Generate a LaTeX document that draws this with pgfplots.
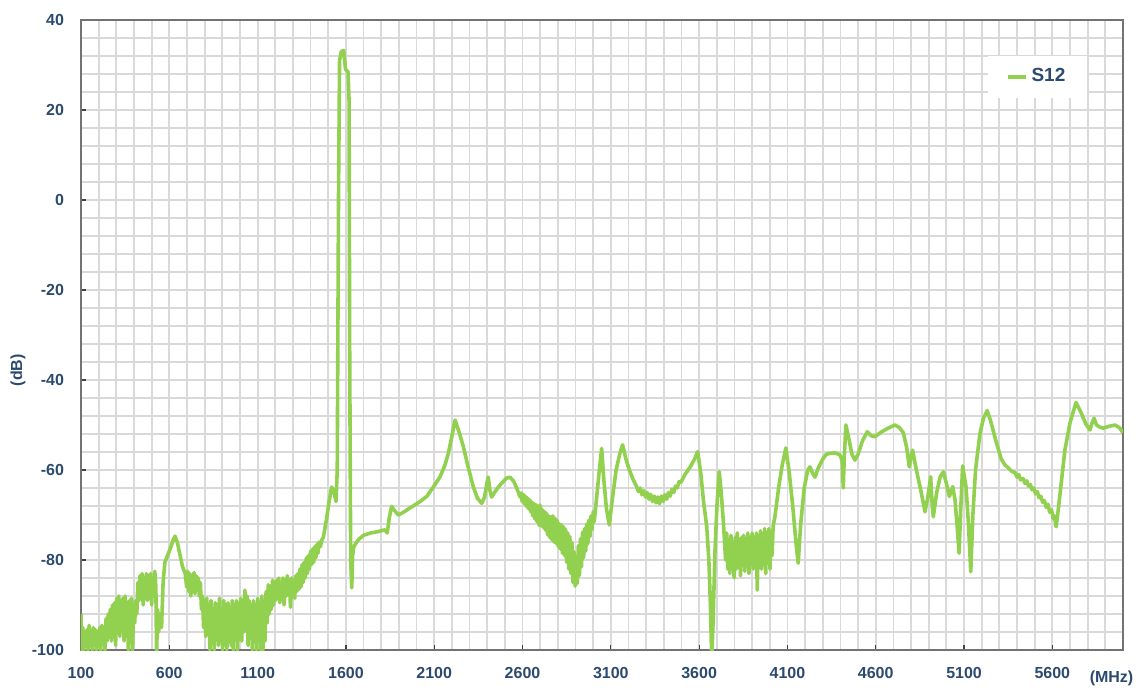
\documentclass[border=0pt]{standalone}
\usepackage{fontspec}
\setmainfont{Liberation Sans}
\usepackage{pgfplots}
\pgfplotsset{compat=1.18}
\usetikzlibrary{calc}
\definecolor{sgreen}{RGB}{146,208,80}
\definecolor{lblue}{RGB}{44,74,110}
\definecolor{gridc}{RGB}{217,217,217}
\begin{document}
\begin{tikzpicture}
\begin{axis}[
  scale only axis,
  width=521pt, height=315pt,
  xmin=100, xmax=6000, ymin=-100, ymax=40,
  xtick={100,600,...,5600},
  ytick={-100,-80,...,40},
  minor xtick={200,300,...,5900},
  minor ytick={-96,-92,...,36},
  grid=both,
  major grid style={gridc, line width=0.9pt},
  minor grid style={gridc, line width=0.9pt},
  tick align=inside,
  major tick length=2.5pt, minor tick length=0pt,
  tick style={black!75, line width=0.6pt},
  xtick pos=bottom, ytick pos=left,
  axis line style={black!55, line width=0.9pt},
  /pgf/number format/assume math mode=true,
  /pgf/number format/1000 sep={},
  ticklabel style={font=\fontsize{8}{9}\selectfont\bfseries, text=lblue},
  yticklabel style={xshift=-5pt},
  xticklabel style={yshift=-5pt},
  xlabel={(MHz)}, ylabel={(dB)},
  label style={font=\fontsize{8}{9}\selectfont\bfseries, text=lblue},
  xlabel style={at={(axis description cs:0.989,-0.0444)}, anchor=center},
  ylabel style={at={(axis description cs:-0.0605,0.444)}, anchor=center},
  legend style={at={(axis description cs:0.870,0.944)}, anchor=north west,
    draw=none, fill=white, font=\fontsize{9.5}{10}\selectfont\bfseries, text=lblue,
    inner xsep=9pt, inner ysep=4.5pt},
  legend cell align=left,
  legend image code/.code={\draw[#1, line width=1.8pt] (0pt,0pt) -- (9pt,0pt);},
]
\addplot[sgreen, line width=1.8pt, line join=round] coordinates {
(100,-92)(103,-100)(110,-95)(116,-100)(122,-96)(128,-99)(134,-95.5)(140,-100)(146,-94.5)(152,-99)(158,-96)(164,-100)(170,-95)(176,-98.5)(182,-95.5)(188,-100)(194,-96)(200,-99)(206,-95)(212,-100)(218,-94.5)(224,-98)(230,-95)(236,-100)(242,-93)(248,-98)(254,-92)(260,-97)(266,-91)(272,-98)(278,-90)(284,-96)(290,-89.5)(296,-99)(302,-88.5)(308,-95)(314,-88)(320,-97)(326,-89)(332,-94)(338,-88.5)(344,-98)(350,-88)(356,-95)(362,-89.5)(368,-100)(374,-89)(380,-96)(386,-88.5)(392,-100)(398,-90)(404,-94)(410,-89)(416,-92)(422,-85)(428,-89)(434,-83.5)(440,-88)(446,-83)(452,-90)(458,-84)(464,-88.5)(470,-83)(476,-89)(482,-83.5)(488,-87.5)(494,-83)(500,-90)(506,-84)(512,-88)(518,-82.5)(524,-86)(528,-101)(534,-91)(540,-96)(548,-92)(556,-95)(565,-85)(575,-80.5)(590,-79)(610,-77)(622,-75.5)(632,-74.7)(645,-76)(660,-78.8)(675,-81.5)(690,-83)(698,-86)(704,-82.5)(710,-87)(716,-83)(722,-88)(728,-83.5)(734,-86.5)(740,-82.8)(746,-87.5)(752,-83.5)(758,-86)(764,-84)(770,-88)(776,-85)(782,-91)(788,-88)(794,-95)(800,-89)(806,-97)(812,-88.5)(818,-94)(824,-90)(830,-100)(836,-89)(842,-96)(848,-91)(854,-100)(860,-89.5)(866,-95)(872,-90)(878,-99)(884,-88.5)(890,-97)(896,-91)(902,-100)(908,-89)(914,-96)(920,-90)(926,-100)(932,-89.5)(938,-94)(944,-90.5)(950,-99)(956,-89)(962,-100)(968,-90)(974,-96)(980,-89)(986,-100)(992,-91)(998,-95)(1004,-88.5)(1010,-98)(1016,-89)(1022,-96)(1028,-86.7)(1034,-94)(1040,-88)(1046,-99)(1052,-89)(1058,-96)(1064,-90)(1070,-100)(1076,-89)(1082,-97)(1088,-90)(1094,-100)(1100,-88.5)(1106,-95)(1112,-89.5)(1118,-100)(1124,-88)(1130,-100)(1136,-89)(1142,-98)(1148,-87)(1154,-94)(1160,-85.5)(1166,-92)(1172,-86)(1178,-91)(1184,-84.5)(1190,-90)(1196,-85)(1202,-89)(1208,-84.5)(1214,-88.5)(1220,-84)(1226,-89.5)(1232,-85)(1238,-88)(1244,-84)(1250,-90)(1256,-84.5)(1262,-88)(1268,-83.5)(1274,-87.5)(1280,-84.5)(1286,-90.5)(1292,-84)(1298,-87)(1304,-84.5)(1310,-88.5)(1316,-83.5)(1322,-87)(1328,-83)(1334,-86.5)(1340,-82)(1346,-86)(1352,-81)(1358,-85)(1364,-80.5)(1370,-84)(1376,-79.5)(1382,-83)(1388,-79)(1394,-82)(1400,-78)(1406,-81)(1412,-77.5)(1418,-80.5)(1424,-77)(1430,-79.5)(1436,-76.5)(1442,-78.5)(1448,-76)(1456,-77)(1464,-75.5)(1472,-75)
(1490,-71)(1505,-67)(1519,-63.8)(1530,-64.5)(1544,-67)(1551,-60)(1558,0)(1564,31)(1574,33)(1587,33.2)(1598,29)(1612,28.5)(1618,22)(1621,-30)(1627,-80)(1633,-86.2)(1638,-79)(1645,-77)(1670,-75.5)(1700,-74.5)(1740,-74)(1780,-73.7)(1821,-73.3)(1834,-74)(1846,-70.5)(1859,-68.1)(1875,-69)(1897,-70)(1930,-69.3)(1960,-68.5)(1981,-68)(2020,-67)(2057,-65.9)(2100,-63.5)(2133,-61.5)(2160,-59)(2180,-56.3)(2200,-52.5)(2218,-48.9)(2240,-51.5)(2265,-54.8)(2290,-59)(2321,-63.7)(2345,-66.3)(2369,-67.4)(2385,-66)(2398,-63)(2406,-61.6)(2415,-64.5)(2425,-66)(2450,-64.5)(2480,-63)(2510,-61.8)(2529,-61.6)(2550,-62.5)(2570,-64.3)(2586,-66)
(2592,-65.1)(2598,-67)(2604,-65.4)(2610,-67.5)(2616,-65.8)(2622,-68.1)(2628,-66.2)(2634,-68.6)(2640,-66.6)(2646,-69.3)(2652,-67.1)(2658,-70.2)(2664,-67.4)(2670,-70.9)(2676,-67.7)(2682,-71.5)(2688,-68)(2694,-72.3)(2700,-67.8)(2706,-72.4)(2712,-68.8)(2718,-72.8)(2724,-69.2)(2730,-73.4)(2736,-69.6)(2742,-74.4)(2748,-70.2)(2754,-75)(2760,-70.4)(2766,-75.5)(2772,-70.2)(2778,-76)(2784,-70.7)(2790,-76.3)(2796,-71.2)(2802,-77)(2808,-71.9)(2814,-77.6)(2820,-72.2)(2826,-78.5)(2832,-72.6)(2838,-79)(2844,-73.2)(2850,-80.5)(2856,-74)(2862,-82)(2868,-74.8)(2874,-83)(2880,-76.2)(2886,-85)(2892,-78.2)(2898,-85.8)(2904,-79.2)(2910,-85.2)(2916,-76.8)(2922,-83.5)(2928,-75.3)(2934,-81.5)(2940,-73.8)(2946,-79.5)(2952,-73)(2958,-78)(2964,-72)(2970,-76.4)(2976,-71.1)(2982,-74.8)(2988,-70.2)(2994,-73.2)(3000,-69.3)(3006,-71.5)
(3020,-66)(3035,-60)(3048,-55.2)(3060,-62)(3075,-68.5)(3091,-72.2)(3110,-66)(3130,-60)(3150,-56.5)(3167,-54.4)(3185,-57.5)(3205,-60)(3225,-62)(3246,-63.7)
(3256,-64.8)(3266,-64)(3276,-65.5)(3286,-64.6)(3296,-66)(3306,-65)(3316,-66.5)(3326,-65.4)(3336,-67)(3346,-65.8)(3356,-67.3)(3366,-66)(3376,-67.5)(3386,-65.8)(3396,-67)(3406,-65.5)(3416,-66.5)(3426,-65)(3436,-65.8)(3446,-64.3)(3456,-65)(3466,-63.6)(3476,-64)(3486,-62.6)(3496,-62.8)
(3520,-61)(3550,-59.3)(3575,-57.5)(3592,-55.9)(3610,-61)(3625,-67)(3643,-72.6)(3655,-80)(3664,-90)(3671,-102)(3678,-95)(3690,-77.8)(3702,-67)(3714,-60.4)(3725,-65)(3738,-72)
(3744,-76)(3750,-80)(3756,-74)(3762,-82)(3768,-75.5)(3774,-83)(3780,-74.5)(3786,-81)(3792,-76)(3798,-84)(3804,-75)(3810,-82)(3816,-74)(3822,-80.5)(3828,-75.5)(3834,-83.5)(3840,-75)(3846,-81)(3852,-74.5)(3858,-82.5)(3864,-76)(3870,-80)(3876,-74)(3882,-83)(3888,-75.5)(3894,-81)(3900,-74)(3906,-82)(3912,-75)(3918,-80.5)(3924,-74)(3929,-86.7)(3935,-75)(3941,-81.5)(3947,-73.5)(3953,-82)(3959,-74.5)(3965,-80)(3971,-73)(3977,-83)(3983,-74)(3989,-80)(3995,-73)(4001,-82)(4007,-74)(4013,-79)(4019,-72.5)
(4029,-70.4)(4050,-64)(4070,-59)(4091,-55.1)(4110,-60.5)(4130,-68)(4148,-76)(4161,-80.7)(4175,-72)(4195,-64)(4215,-60)(4227,-59.3)(4240,-60.5)(4256,-61.6)(4275,-59.5)(4300,-57.6)(4320,-56.5)(4341,-56.3)(4370,-56.2)(4397,-56.6)(4410,-58)(4416,-64)(4422,-57)(4431,-50)(4445,-52.5)(4465,-56.5)(4482,-57.8)(4500,-56.5)(4525,-53.5)(4552,-51.5)(4575,-52.4)(4595,-52.6)(4630,-51.6)(4670,-50.7)(4709,-50)(4735,-50.6)(4756,-51.7)(4775,-55)(4790,-59.3)(4800,-57)(4809,-55.6)(4830,-60)(4855,-64.5)(4879,-69.3)(4895,-66)(4911,-61.5)(4920,-68)(4926,-70.4)(4945,-65)(4965,-61.5)(4983,-60.4)(5000,-63)(5017,-65.9)(5036,-63.7)(5049,-66.7)(5060,-72)(5072,-78.5)(5082,-68)(5092,-59.1)(5111,-63.7)(5125,-72)(5138,-82.6)(5150,-70)(5165,-60)(5190,-51.9)(5210,-48.5)(5231,-46.8)(5250,-49)(5280,-53.5)(5310,-57.5)(5332,-58.9)
(5350,-59.5)(5370,-60.3)(5390,-60.6)(5400,-61.6)(5410,-61)(5420,-62.2)(5435,-61.9)(5445,-63)(5455,-62.4)(5465,-63.6)(5475,-63.2)(5485,-64.4)(5495,-64)(5505,-65.3)(5515,-64.8)(5525,-66.2)(5535,-65.8)(5545,-67.2)(5555,-66.8)(5565,-68.3)(5575,-67.6)(5585,-69.4)(5595,-68.8)(5605,-70.8)(5612,-70.2)(5621,-72.6)(5630,-70)(5650,-63)(5671,-55.6)(5700,-49.5)(5734,-45)(5760,-47)(5790,-49.8)(5813,-51.1)(5825,-49.5)(5836,-48.5)(5850,-50)(5870,-50.5)(5888,-50.7)(5920,-50.3)(5955,-50)(5980,-50.6)(6000,-51.7)
};
\addlegendentry{S12}
\end{axis}
\pgfresetboundingbox
\path ($(current axis.south west)+(-40.5pt,-21.5pt)$) rectangle ($(current axis.south west)+(529.5pt,325pt)$);
\end{tikzpicture}
\end{document}
